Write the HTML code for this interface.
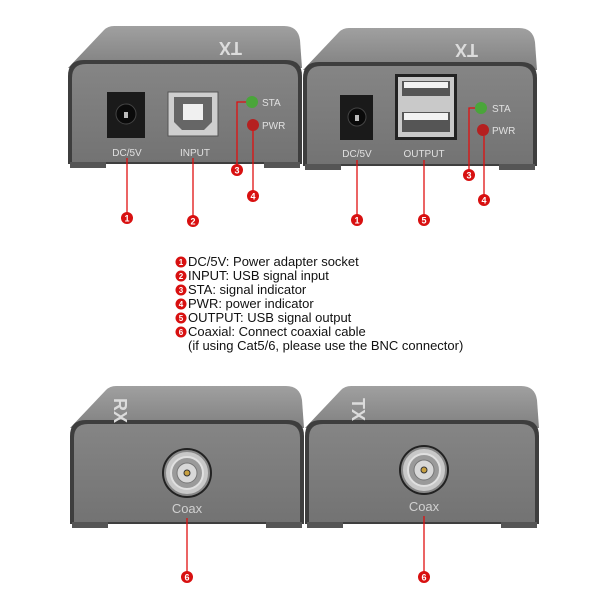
<!DOCTYPE html>
<html><head><meta charset="utf-8"><style>
html,body{margin:0;padding:0;background:#fff}
svg{display:block}
text{font-family:"Liberation Sans",Arial,sans-serif}
</style></head><body>
<svg width="600" height="600" viewBox="0 0 600 600" xmlns="http://www.w3.org/2000/svg">
<defs>
<linearGradient id="lid" x1="0" y1="0" x2="0" y2="1"><stop offset="0" stop-color="#a0a0a0"/><stop offset="1" stop-color="#808080"/></linearGradient>
<linearGradient id="face" x1="0" y1="0" x2="0" y2="1"><stop offset="0" stop-color="#858585"/><stop offset="1" stop-color="#737373"/></linearGradient>
<g id="box">
 <path d="M46,2 L216,2 Q230,2 232,16 L234,44 L0,44 L36,6 Q40,2 46,2Z" fill="url(#lid)"/>
 <path d="M0,52 Q0,36 16,36 L218,36 Q234,36 234,52 L234,140 L0,140Z" fill="#3e3e3e"/>
 <path d="M4,54 Q4,40 18,40 L216,40 Q230,40 230,54 L230,138 L4,138Z" fill="url(#face)"/>
 <rect x="2" y="138" width="36" height="6" fill="#555"/>
 <rect x="196" y="138" width="36" height="6" fill="#555"/>
</g>
<g id="bnc">
 <circle r="25" fill="#222"/>
 <circle r="22" fill="#c8c8c8" stroke="#888" stroke-width="2"/>
 <circle r="16" fill="#9a9a9a" stroke="#e0e0e0" stroke-width="2"/>
 <circle r="10" fill="#d8d8d8" stroke="#777" stroke-width="1"/>
 <circle r="3" fill="#c8a040" stroke="#333" stroke-width="1"/>
</g>
</defs>

<!-- top left device -->
<use href="#box" x="68" y="24"/>
<text x="222" y="54" font-size="18" font-weight="bold" fill="#dcdcdc" transform="rotate(180 232 48)">TX</text>
<rect x="107" y="92" width="38" height="46" fill="#1a1a1a"/>
<circle cx="126" cy="114" r="10" fill="#0a0a0a" stroke="#444"/>
<rect x="124" y="112" width="4" height="6" fill="#bbb"/>
<rect x="168" y="92" width="50" height="44" fill="#cfcfcf" stroke="#555"/>
<path d="M174,97 L212,97 L212,122 L204,130 L182,130 L174,122Z" fill="#666"/>
<rect x="183" y="104" width="20" height="16" fill="#f0f0f0"/>
<circle cx="252" cy="102" r="6" fill="#4aa53a"/>
<circle cx="253" cy="125" r="6" fill="#b52020"/>
<text x="127" y="156" font-size="10" fill="#e0e0e0" text-anchor="middle">DC/5V</text>
<text x="195" y="156" font-size="10" fill="#e0e0e0" text-anchor="middle">INPUT</text>
<text x="262" y="106" font-size="10" fill="#e0e0e0">STA</text>
<text x="262" y="129" font-size="10" fill="#e0e0e0">PWR</text>

<!-- top right device -->
<use href="#box" x="303" y="26"/>
<text x="458" y="56" font-size="18" font-weight="bold" fill="#dcdcdc" transform="rotate(180 468 50)">TX</text>
<rect x="340" y="95" width="33" height="45" fill="#1a1a1a"/>
<circle cx="357" cy="117" r="9" fill="#0a0a0a" stroke="#444"/>
<rect x="355" y="115" width="4" height="6" fill="#bbb"/>
<rect x="395" y="74" width="62" height="66" fill="#222"/>
<rect x="398" y="77" width="56" height="60" fill="#c9c9c9"/>
<rect x="402" y="81" width="48" height="15" fill="#555"/><rect x="404" y="82" width="44" height="6" fill="#f2f2f2"/>
<rect x="402" y="112" width="48" height="20" fill="#555"/><rect x="404" y="113" width="44" height="7" fill="#f2f2f2"/>
<circle cx="481" cy="108" r="6" fill="#4aa53a"/>
<circle cx="483" cy="130" r="6" fill="#b52020"/>
<text x="357" y="157" font-size="10" fill="#e0e0e0" text-anchor="middle">DC/5V</text>
<text x="424" y="157" font-size="10" fill="#e0e0e0" text-anchor="middle">OUTPUT</text>
<text x="492" y="112" font-size="10" fill="#e0e0e0">STA</text>
<text x="492" y="134" font-size="10" fill="#e0e0e0">PWR</text>

<!-- callouts top -->
<g stroke="#e01010" stroke-width="1.3" fill="none">
 <line x1="127" y1="158" x2="127" y2="214"/>
 <line x1="193" y1="158" x2="193" y2="216"/>
 <polyline points="246,102 237,102 237,166"/>
 <line x1="253" y1="130" x2="253" y2="192"/>
 <line x1="357" y1="160" x2="357" y2="216"/>
 <line x1="424" y1="160" x2="424" y2="216"/>
 <polyline points="475,108 469,108 469,171"/>
 <line x1="484" y1="136" x2="484" y2="196"/>
</g>
<g font-size="9" font-weight="bold" fill="#fff" text-anchor="middle">
 <circle cx="127" cy="218" r="6" fill="#d81010"/><text x="127" y="221.5">1</text>
 <circle cx="193" cy="221" r="6" fill="#d81010"/><text x="193" y="224.5">2</text>
 <circle cx="237" cy="170" r="6" fill="#d81010"/><text x="237" y="173.5">3</text>
 <circle cx="253" cy="196" r="6" fill="#d81010"/><text x="253" y="199.5">4</text>
 <circle cx="357" cy="220" r="6" fill="#d81010"/><text x="357" y="223.5">1</text>
 <circle cx="424" cy="220" r="6" fill="#d81010"/><text x="424" y="223.5">5</text>
 <circle cx="469" cy="175" r="6" fill="#d81010"/><text x="469" y="178.5">3</text>
 <circle cx="484" cy="200" r="6" fill="#d81010"/><text x="484" y="203.5">4</text>
</g>

<!-- legend -->
<g font-size="13" fill="#111">
 <text x="188" y="266">DC/5V: Power adapter socket</text>
 <text x="188" y="280">INPUT: USB signal input</text>
 <text x="188" y="294">STA: signal indicator</text>
 <text x="188" y="308">PWR: power indicator</text>
 <text x="188" y="322">OUTPUT: USB signal output</text>
 <text x="188" y="336">Coaxial: Connect coaxial cable</text>
 <text x="188" y="350">(if using Cat5/6, please use the BNC connector)</text>
</g>
<g font-size="8" font-weight="bold" fill="#fff" text-anchor="middle">
 <circle cx="181" cy="262" r="5.5" fill="#d81010"/><text x="181" y="265">1</text>
 <circle cx="181" cy="276" r="5.5" fill="#d81010"/><text x="181" y="279">2</text>
 <circle cx="181" cy="290" r="5.5" fill="#d81010"/><text x="181" y="293">3</text>
 <circle cx="181" cy="304" r="5.5" fill="#d81010"/><text x="181" y="307">4</text>
 <circle cx="181" cy="318" r="5.5" fill="#d81010"/><text x="181" y="321">5</text>
 <circle cx="181" cy="332" r="5.5" fill="#d81010"/><text x="181" y="335">6</text>
</g>

<!-- bottom devices -->
<use href="#box" x="70" y="384"/>
<use href="#box" x="305" y="384"/>
<text x="112" y="412" font-size="18" font-weight="bold" fill="#dcdcdc" transform="rotate(90 120 406)">RX</text>
<text x="350" y="412" font-size="18" font-weight="bold" fill="#dcdcdc" transform="rotate(90 358 406)">TX</text>
<use href="#bnc" x="187" y="473"/>
<use href="#bnc" x="424" y="470"/>
<text x="187" y="513" font-size="13" fill="#d0d0d0" text-anchor="middle">Coax</text>
<text x="424" y="511" font-size="13" fill="#d0d0d0" text-anchor="middle">Coax</text>
<g stroke="#e01010" stroke-width="1.3">
 <line x1="187" y1="518" x2="187" y2="572"/>
 <line x1="424" y1="516" x2="424" y2="572"/>
</g>
<g font-size="9" font-weight="bold" fill="#fff" text-anchor="middle">
 <circle cx="187" cy="577" r="6" fill="#d81010"/><text x="187" y="580.5">6</text>
 <circle cx="424" cy="577" r="6" fill="#d81010"/><text x="424" y="580.5">6</text>
</g>
</svg>
</body></html>
